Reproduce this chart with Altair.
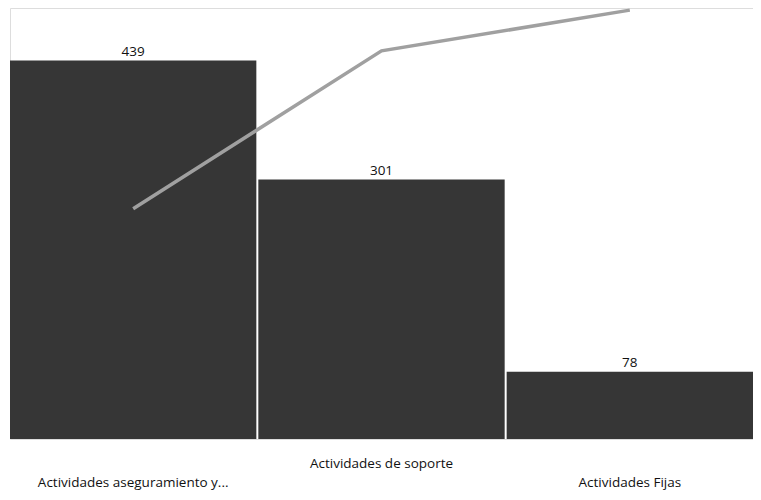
import altair as alt
import pandas as pd

categories = ["Actividades aseguramiento y...", "Actividades de soporte", "Actividades Fijas"]
counts = [439, 301, 78]
cum_pct = [53.7, 90.5, 100.0]
label_rows = [1, 0, 1]

df = pd.DataFrame({
    "cat": categories,
    "count": counts,
    "cum": cum_pct,
    "row": label_rows,
})

x = alt.X("cat:N", sort=categories, axis=None,
          scale=alt.Scale(paddingInner=0.008, paddingOuter=0))

ybar = alt.Y("count:Q", axis=None, scale=alt.Scale(domain=[0, 500], nice=False))

bars = alt.Chart(df).mark_bar(color="#363636").encode(x=x, y=ybar)

bar_labels = alt.Chart(df).mark_text(
    dy=-9, font="Open Sans", fontSize=13.5, color="#111111"
).encode(x=x, y=ybar, text=alt.Text("count:Q"))

line = alt.Chart(df).mark_line(color="#a0a0a0", strokeWidth=3.5).encode(
    x=x,
    y=alt.Y("cum:Q", axis=None, scale=alt.Scale(domain=[0, 100.5], nice=False)),
)

xlab_top = alt.Chart(df).transform_filter("datum.row == 0").mark_text(
    font="Open Sans", fontSize=13.5, color="#111111", baseline="middle"
).encode(x=x, y=alt.value(456), text="cat:N")

xlab_bottom = alt.Chart(df).transform_filter("datum.row == 1").mark_text(
    font="Open Sans", fontSize=13.5, color="#111111", baseline="middle"
).encode(x=x, y=alt.value(475), text="cat:N")

bar_layer = alt.layer(bars, bar_labels, xlab_top, xlab_bottom)

chart = alt.layer(bar_layer, line).resolve_scale(y="independent").properties(
    width=743,
    height=431,
    padding={"left": 2, "top": 0, "right": 0, "bottom": 53},
    autosize=alt.AutoSizeParams(type="none"),
).configure_view(stroke=None).configure(background="white")

chart.save("out.html", embed_options={"renderer": "svg", "actions": False})
